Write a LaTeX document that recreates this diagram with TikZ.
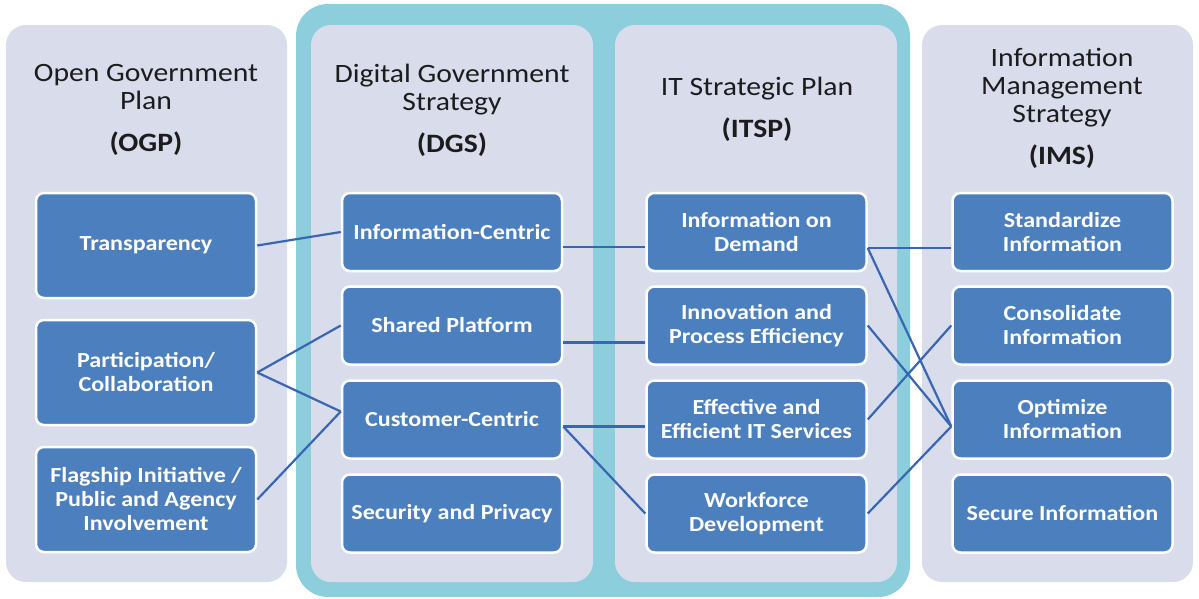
\documentclass[tikz,border=0pt]{standalone}
\usepackage{fontspec}
\setmainfont{Carlito}[FakeStretch=1.12]
\usepackage{xcolor}
\usetikzlibrary{positioning}

\definecolor{panelgray}{RGB}{217,221,235}
\definecolor{tealframe}{RGB}{140,206,219}
\definecolor{itemblue}{RGB}{76,127,190}
\definecolor{linkblue}{RGB}{58,101,178}
\definecolor{headtext}{RGB}{28,28,30}

\begin{document}
\begin{tikzpicture}[x=1pt, y=-1pt,
    panel/.style={fill=panelgray, rounded corners=20pt},
    head/.style={align=center, text=headtext, font=\fontsize{26.5}{28}\selectfont},
    item/.style={draw=white, line width=2.5pt, fill=itemblue, rounded corners=8pt,
      text=white, align=center, minimum width=220pt, minimum height=78pt, inner sep=2pt,
      font=\fontsize{21.5}{24}\selectfont\bfseries},
    tall/.style={minimum height=105pt},
    link/.style={draw=linkblue, line width=2.2pt}]
  \useasboundingbox (0,0) rectangle (1199,598);

  % Teal frame round the two middle plans
  \fill[tealframe, rounded corners=32pt] (296,4) rectangle (910,597);

  % Column panels
  \foreach \xa/\xb in {6/287, 311/593, 615/897, 922/1193} {
    \fill[panel] (\xa,25) rectangle (\xb,582);
  }

  % Column headings
  \node[head] (ogp)  at (146,110)  {Open Government\\Plan\\[14pt]\textbf{(OGP)}};
  \node[head] (dgs)  at (452,110)  {Digital Government\\Strategy\\[14pt]\textbf{(DGS)}};
  \node[head] (itsp) at (757,109)  {IT Strategic Plan\\[14pt]\textbf{(ITSP)}};
  \node[head] (ims)  at (1062,108) {Information\\Management\\Strategy\\[14pt]\textbf{(IMS)}};

  % OGP items
  \node[item, tall] (transp) at (146,245.5) {Transparency};
  \node[item, tall] (partic) at (146,372.5) {Participation/\\Collaboration};
  \node[item, tall] (flag)   at (146,499.5) {Flagship Initiative /\\Public and Agency\\Involvement};

  % DGS items
  \node[item] (infoc)   at (452,232)   {Information-Centric};
  \node[item] (shared)  at (452,325.5) {Shared Platform};
  \node[item] (custc)   at (452,419.5) {Customer-Centric};
  \node[item] (secpriv) at (452,513.5) {Security and Privacy};

  % ITSP items
  \node[item] (demand) at (756.5,232)   {Information on\\Demand};
  \node[item] (innov)  at (756.5,325.5) {Innovation and\\Process Efficiency};
  \node[item] (effect) at (756.5,419.5) {Effective and\\Efficient IT Services};
  \node[item] (workf)  at (756.5,513.5) {Workforce\\Development};

  % IMS items
  \node[item] (standard) at (1062.5,232)   {Standardize\\Information};
  \node[item] (consol)   at (1062.5,325.5) {Consolidate\\Information};
  \node[item] (optim)    at (1062.5,419.5) {Optimize\\Information};
  \node[item] (secinfo)  at (1062.5,513.5) {Secure Information};

  % OGP to DGS
  \draw[link] (transp.east) -- (infoc.west);
  \draw[link] (partic.east) -- (shared.west);
  \draw[link] (partic.east) -- ([yshift=8pt]custc.west);
  \draw[link] (flag.east) -- ([yshift=8pt]custc.west);

  % DGS to ITSP
  \draw[link] ([yshift=-15pt]infoc.east) -- ([yshift=-15pt]demand.west);
  \draw[link] ([yshift=-17pt]shared.east) -- ([yshift=-17pt]innov.west);
  \draw[link] ([yshift=-7pt]custc.east) -- ([yshift=-7pt]effect.west);
  \draw[link] ([yshift=-7pt]custc.east) -- (workf.west);

  % ITSP to IMS
  \draw[link] ([yshift=-16pt]demand.east) -- ([yshift=-16pt]standard.west);
  \draw[link] ([yshift=-16pt]demand.east) -- ([yshift=-7pt]optim.west);
  \draw[link] (innov.east) -- ([yshift=-7pt]optim.west);
  \draw[link] (effect.east) -- (consol.west);
  \draw[link] (workf.east) -- ([yshift=-7pt]optim.west);
\end{tikzpicture}
\end{document}
